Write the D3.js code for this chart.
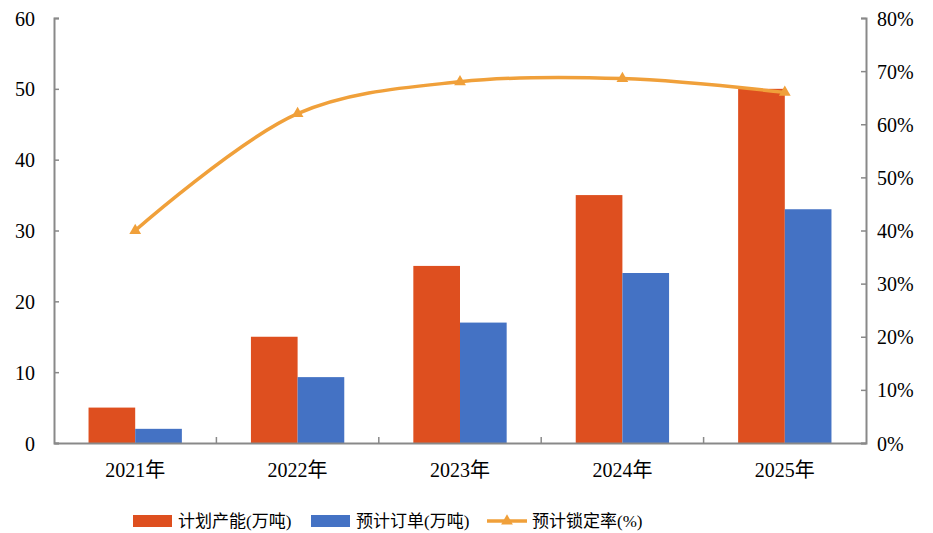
<!DOCTYPE html>
<html>
<head>
<meta charset="utf-8">
<script src="https://cdn.jsdelivr.net/npm/d3@7"></script>
<style>
  body { margin: 0; background: #fff; }
  text { font-family: "Liberation Serif", "Noto Sans CJK SC", serif; fill: #000; }
</style>
</head>
<body>
<script>
const years = ["2021年", "2022年", "2023年", "2024年", "2025年"];
const capacity = [5, 15, 25, 35, 50];          // 计划产能(万吨)
const orders = [2, 9.3, 17, 24, 33];           // 预计订单(万吨)
const lockRate = [0.40, 0.62, 0.68, 0.686, 0.66]; // 预计锁定率(%)
const leftTicks = [0, 10, 20, 30, 40, 50, 60];
const rightTicks = [0, 0.1, 0.2, 0.3, 0.4, 0.5, 0.6, 0.7, 0.8];

const w = 933, h = 533;
const plotL = 54, plotR = 866, plotT = 18, plotB = 443;
const cOrange = "#DE4F1F", cBlue = "#4472C4", cLine = "#F0A03A", cAxis = "#898989";

const svg = d3.select("body").append("svg")
    .attr("width", w)
    .attr("height", h);

let xScale = d3.scaleBand().domain(years).range([plotL, plotR]);
let inner = d3.scaleBand().domain(["cap", "ord"]).range([0, xScale.bandwidth()])
    .paddingInner(0).paddingOuter(0.74);
let yLeft = d3.scaleLinear().domain([0, 60]).range([plotB, plotT]);
let yRight = d3.scaleLinear().domain([0, 0.8]).range([plotB, plotT]);

//bars
const groups = svg.selectAll("g.year")
    .data(years)
    .enter()
    .append("g")
    .attr("class", "year")
    .attr("transform", d => "translate(" + xScale(d) + ",0)");
groups.append("rect")
    .attr("x", inner("cap"))
    .attr("width", inner.bandwidth())
    .attr("y", (d, i) => yLeft(capacity[i]))
    .attr("height", (d, i) => plotB - yLeft(capacity[i]))
    .attr("fill", cOrange);
groups.append("rect")
    .attr("x", inner("ord"))
    .attr("width", inner.bandwidth())
    .attr("y", (d, i) => yLeft(orders[i]))
    .attr("height", (d, i) => plotB - yLeft(orders[i]))
    .attr("fill", cBlue);

//axes
const axL = svg.append("g")
    .attr("transform", "translate(" + plotL + ",0)")
    .call(d3.axisRight(yLeft).tickValues(leftTicks).tickSize(5).tickFormat(d3.format("d")));
axL.selectAll("text").attr("x", -19).attr("text-anchor", "end");

const axR = svg.append("g")
    .attr("transform", "translate(" + plotR + ",0)")
    .call(d3.axisLeft(yRight).tickValues(rightTicks).tickSize(5).tickFormat(d3.format(".0%")));
axR.selectAll("text").attr("x", 11).attr("text-anchor", "start");

const axB = svg.append("g")
    .attr("transform", "translate(0," + plotB + ")")
    .call(d3.axisTop(xScale).tickSize(0).tickFormat(""));
axB.selectAll(".tick").remove();
// boundary ticks between categories
axB.selectAll("line.sep")
    .data(years.slice(1))
    .enter()
    .append("line")
    .attr("class", "sep")
    .attr("x1", d => xScale(d)).attr("x2", d => xScale(d))
    .attr("y1", 0).attr("y2", -6)
    .attr("stroke", cAxis).attr("stroke-width", 1.5);
axB.selectAll("text.lab")
    .data(years)
    .enter()
    .append("text")
    .attr("class", "lab")
    .attr("x", d => xScale(d) + xScale.bandwidth() / 2)
    .attr("y", 34)
    .attr("text-anchor", "middle")
    .style("font-size", "20px")
    .text(d => d);

[axL, axR, axB].forEach(a => {
    a.select(".domain").attr("stroke", cAxis).attr("stroke-width", 2);
    a.selectAll(".tick line").attr("stroke", cAxis).attr("stroke-width", 1.5);
    a.selectAll(".tick text").style("font-size", "20px").attr("dy", "0.35em");
});

//line
const cx = (d, i) => xScale(years[i]) + xScale.bandwidth() / 2;
const line = d3.line()
    .x(cx)
    .y(d => yRight(d))
    .curve(d3.curveCatmullRom.alpha(0.5));
svg.append("path")
    .datum(lockRate)
    .attr("d", line)
    .attr("fill", "none")
    .attr("stroke", cLine)
    .attr("stroke-width", 3.5);
const tri = d3.symbol().type(d3.symbolTriangle).size(60);
svg.selectAll("path.mark")
    .data(lockRate)
    .enter()
    .append("path")
    .attr("class", "mark")
    .attr("d", tri)
    .attr("transform", (d, i) => "translate(" + cx(d, i) + "," + yRight(d) + ")")
    .attr("fill", cLine);

//legend
const legend = [
    { name: "计划产能(万吨)", color: cOrange, type: "rect", x: 133 },
    { name: "预计订单(万吨)", color: cBlue, type: "rect", x: 311 },
    { name: "预计锁定率(%)", color: cLine, type: "line", x: 487 }
];
const ly = 521;
const lg = svg.selectAll("g.leg")
    .data(legend)
    .enter()
    .append("g")
    .attr("class", "leg")
    .attr("transform", d => "translate(" + d.x + "," + ly + ")");
lg.filter(d => d.type == "rect").append("rect")
    .attr("x", 0).attr("y", -6).attr("width", 39).attr("height", 12)
    .attr("fill", d => d.color);
lg.filter(d => d.type == "line").append("line")
    .attr("x1", 0).attr("x2", 40).attr("y1", 0).attr("y2", 0)
    .attr("stroke", d => d.color).attr("stroke-width", 3.5);
lg.filter(d => d.type == "line").append("path")
    .attr("d", tri)
    .attr("transform", "translate(20,0)")
    .attr("fill", d => d.color);
lg.append("text")
    .attr("x", 45)
    .attr("y", 0)
    .attr("dy", "0.35em")
    .style("font-size", "17px")
    .text(d => d.name);
</script>
</body>
</html>
